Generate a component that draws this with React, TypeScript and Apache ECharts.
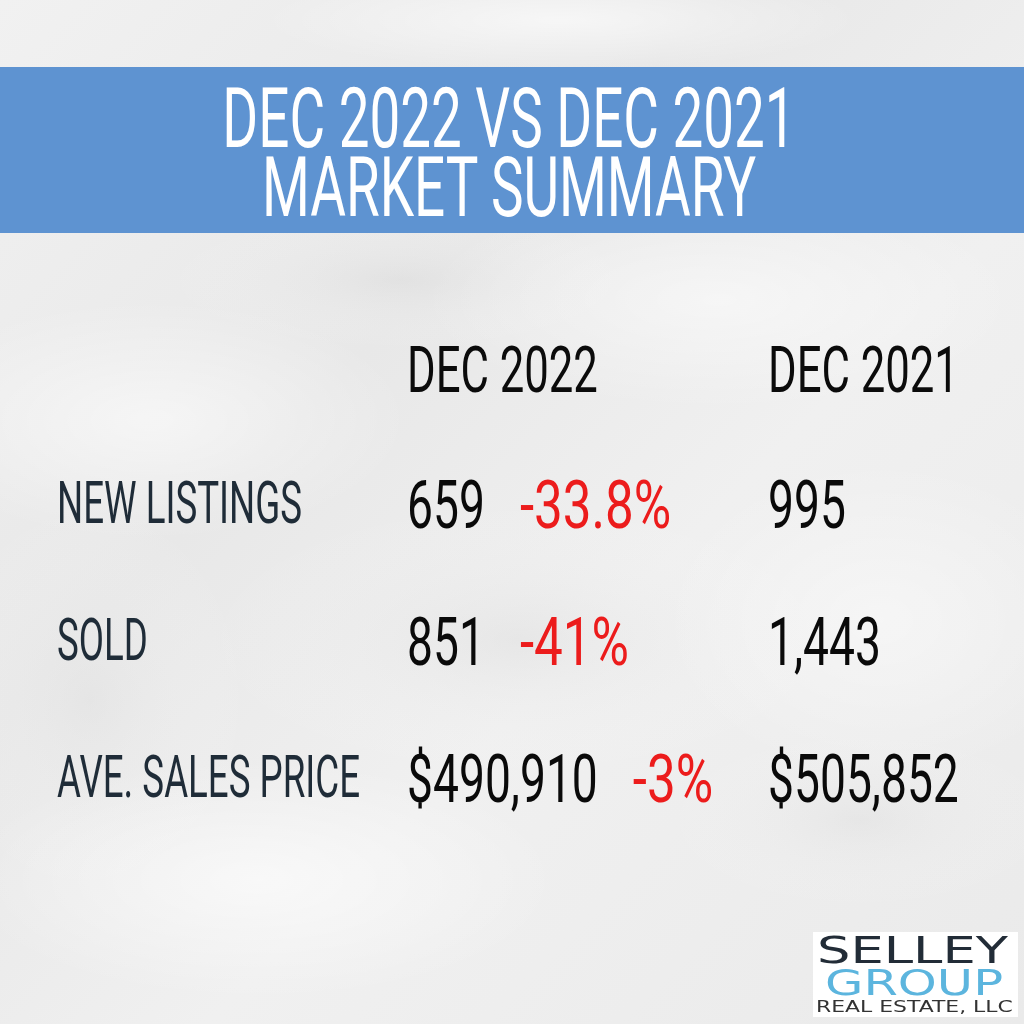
import React, { useEffect, useRef } from "react";
import * as echarts from "echarts";

const titleLines = ["DEC 2022 VS DEC 2021", "MARKET SUMMARY"];
const columnHeaders = ["DEC 2022", "DEC 2021"];
const rowLabels = ["NEW LISTINGS", "SOLD", "AVE. SALES PRICE"];
const valuePrefixes = ["", "", "$"];
const values2022 = [659, 851, 490910];
const values2021 = [995, 1443, 505852];
const changes = ["-33.8%", "-41%", "-3%"];
const logoLines = ["SELLEY", "GROUP", "REAL ESTATE, LLC"];

const FONT = "Roboto, 'Noto Sans', sans-serif";

let measureCtx: CanvasRenderingContext2D | null = null;
function measure(text: string, font: string): number {
  if (!measureCtx) {
    const c = document.createElement("canvas");
    measureCtx = c.getContext("2d");
  }
  if (!measureCtx) return text.length * 10;
  measureCtx.font = font;
  return measureCtx.measureText(text).width;
}

function txt(
  text: string,
  x: number,
  y: number,
  size: number,
  fill: string,
  scaleX: number,
  align: string = "left",
  weight: number = 400,
  family: string = FONT
) {
  const font = `${weight} ${size}px ${family}`;
  return {
    type: "text",
    x,
    y,
    scaleX,
    silent: true,
    style: {
      text,
      x: 0,
      y: 0,
      font,
      fill,
      textAlign: align,
      align,
      textVerticalAlign: "middle",
      verticalAlign: "middle",
    },
  };
}

function fmt(v: number, prefix: string) {
  return prefix + v.toLocaleString("en-US");
}

export default function App() {
  const ref = useRef<HTMLDivElement>(null);
  useEffect(() => {
    if (!ref.current) return;
    const chart = echarts.init(ref.current, null, { renderer: "svg" });
    const W = 1024;
    const elements: any[] = [];

    // background (light marble-like)
    elements.push({
      type: "rect",
      shape: { x: 0, y: 0, width: W, height: W },
      silent: true,
      style: {
        fill: new echarts.graphic.LinearGradient(0, 0, 1, 1, [
          { offset: 0, color: "#f1f1f1" },
          { offset: 0.35, color: "#e8e8e8" },
          { offset: 0.6, color: "#f0f0f0" },
          { offset: 1, color: "#eaeaea" },
        ]),
      },
    });
    const blobs = [
      [150, 420, 260, 120, "rgba(255,255,255,0.55)"],
      [720, 300, 300, 110, "rgba(255,255,255,0.5)"],
      [520, 640, 320, 140, "rgba(215,215,215,0.35)"],
      [260, 880, 300, 120, "rgba(255,255,255,0.6)"],
      [880, 620, 220, 160, "rgba(255,255,255,0.45)"],
      [400, 280, 240, 70, "rgba(210,210,210,0.3)"],
      [860, 820, 200, 90, "rgba(215,215,215,0.3)"],
      [90, 700, 160, 200, "rgba(222,222,222,0.35)"],
      [560, 20, 300, 50, "rgba(255,255,255,0.6)"],
    ];
    blobs.forEach((b: any) => {
      elements.push({
        type: "ellipse",
        silent: true,
        shape: { cx: b[0], cy: b[1], rx: b[2], ry: b[3] },
        style: {
          fill: new echarts.graphic.RadialGradient(0.5, 0.5, 0.5, [
            { offset: 0, color: b[4] },
            { offset: 1, color: "rgba(255,255,255,0)" },
          ]),
        },
      });
    });

    // blue band
    elements.push({
      type: "rect",
      silent: true,
      shape: { x: 0, y: 67, width: W, height: 166 },
      style: { fill: "#5e93d1" },
    });
    const titleY = [118, 187];
    titleLines.forEach((t, i) => {
      elements.push(txt(t, 509, titleY[i], 84, "#ffffff", 0.652, "center", 400));
    });

    // column headers
    const colX = [407, 768];
    columnHeaders.forEach((h, i) => {
      elements.push(txt(h, colX[i], 370, 65, "#0b0b0b", 0.672, "left"));
    });

    // rows
    const rowY = [504, 641, 778];
    const valSize = 66;
    const valScale = 0.7;
    const chgScale = 0.775;
    rowLabels.forEach((lab, i) => {
      elements.push(txt(lab, 57, rowY[i] - 1, 59, "#1f2c38", 0.622, "left"));
      const v1 = fmt(values2022[i], valuePrefixes[i]);
      const v2 = fmt(values2021[i], valuePrefixes[i]);
      elements.push(txt(v1, colX[0], rowY[i] + 1, valSize, "#0a0a0a", valScale, "left"));
      const w1 = measure(v1, `400 ${valSize}px ${FONT}`) * valScale;
      elements.push(
        txt(changes[i], colX[0] + w1 + 35, rowY[i] + 1, valSize, "#ec1c1c", chgScale, "left")
      );
      elements.push(txt(v2, colX[1], rowY[i] + 1, valSize, "#0a0a0a", valScale, "left"));
    });

    // logo
    elements.push({
      type: "rect",
      silent: true,
      shape: { x: 813, y: 932, width: 205, height: 85 },
      style: { fill: "#ffffff" },
    });
    const logoFam = "'DejaVu Sans', sans-serif";
    const logoSpecs = [
      { y: 950, size: 37, color: "#222c37", x0: 817, w: 191 },
      { y: 983, size: 36, color: "#5cb5de", x0: 825, w: 178 },
      { y: 1007, size: 15, color: "#333333", x0: 816, w: 197 },
    ];
    logoLines.forEach((t, i) => {
      const s = logoSpecs[i];
      const f = `400 ${s.size}px ${logoFam}`;
      const sc = s.w / measure(t, f);
      elements.push(txt(t, s.x0, s.y, s.size, s.color, sc, "left", 400, logoFam));
    });

    chart.setOption({ animation: false, graphic: elements });
    return () => chart.dispose();
  }, []);
  return (
    <div
      ref={ref}
      style={{ position: "fixed", left: 0, top: 0, width: 1024, height: 1024 }}
    />
  );
}
